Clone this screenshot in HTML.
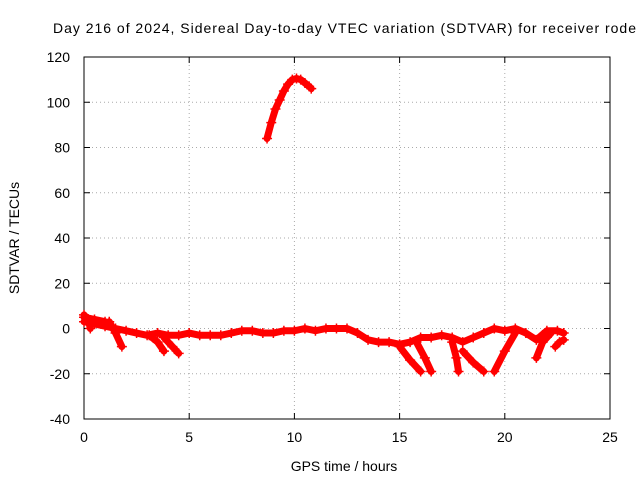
<!DOCTYPE html>
<html><head><meta charset="utf-8"><style>
body{margin:0;background:#fff}
svg{display:block;font-family:"Liberation Sans",sans-serif}
</style></head><body>
<svg id="chart" width="640" height="480">
<rect width="640" height="480" fill="#fff"/>
<text x="53" y="33" font-size="14" textLength="583" lengthAdjust="spacing" fill="#000" style="white-space:pre">Day 216 of 2024, Sidereal Day-to-day VTEC variation (SDTVAR) for receiver rode</text>
<g id="grid"></g><g id="axes"></g><g id="series"></g>
<text x="344" y="471" font-size="14" text-anchor="middle">GPS time / hours</text>
<text transform="translate(19,238) rotate(-90)" font-size="14" text-anchor="middle">SDTVAR / TECUs</text>
</svg>
<script>
const xTicks=[0,5,10,15,20,25];
const yTicks=[-40,-20,0,20,40,60,80,100,120];
const arcTimes=[8.7,8.9,9.1,9.3,9.5,9.7,9.9,10.1,10.3,10.5,10.7,10.8];
const arcValues=[84,91,97,101,105,108,110,110.5,110,108.5,107,106];
const baseTimes=[0,0.5,1,1.5,2,2.5,3,3.5,4,4.5,5,5.5,6,6.5,7,7.5,8,8.5,9,9.5,10,10.5,11,11.5,12,12.5,13,13.5,14,14.5,15,15.5,16,16.5,17,17.5,18,18.5,19,19.5,20,20.5,21,21.5,22,22.5,22.8];
const baseValues=[3,2,1,0,-1,-2,-3,-2,-3,-3,-2,-3,-3,-3,-2,-1,-1,-2,-2,-1,-1,0,-1,0,0,0,-2,-5,-6,-6,-7,-6,-4,-4,-3,-4,-6,-4,-2,0,-1,0,-2,-5,-1,-1,-2];
const branchTimes=[[0,0.5,1],[1.2,1.5,1.8],[3.1,3.5,3.8],[3.8,4.2,4.5],[15,15.5,16],[15.8,16.2,16.5],[17.5,17.7,17.8],[18,18.5,19],[19.5,20,20.5],[21.5,21.8,22.2],[22.4,22.6,22.8],[0,0.2,0.3]];
const branchValues=[[5,4,3],[3,-2,-8],[-3,-6,-10],[-4,-8,-11],[-8,-14,-19],[-6,-13,-19],[-6,-13,-19],[-10,-15,-19],[-19,-10,-2],[-13,-6,-2],[-8,-6,-5],[6,4,0]];
const X0=84,X1=610,Y0=419,Y1=57;
const xs=t=>X0+(t-0)/(25-0)*(X1-X0);
const ys=v=>Y0-(v+40)/(160)*(Y0-Y1);
const NS="http://www.w3.org/2000/svg";
function mk(tag,attrs,parent){const e=document.createElementNS(NS,tag);for(const k in attrs)e.setAttribute(k,attrs[k]);parent.appendChild(e);return e;}
const grid=document.getElementById('grid'),axes=document.getElementById('axes'),ser=document.getElementById('series');
xTicks.forEach(t=>{const x=xs(t);
 if(t>0&&t<25){const g=mk('line',{x1:x,x2:x,y1:Y1,y2:Y0,stroke:'#aaa','stroke-dasharray':'1,3'},grid);
 
 }
 mk('line',{x1:x,x2:x,y1:Y0,y2:Y0-6,stroke:'#000'},axes);mk('line',{x1:x,x2:x,y1:Y1,y2:Y1+6,stroke:'#000'},axes);
 const l=mk('text',{x:x,y:Y0+23,'font-size':14,'text-anchor':'middle'},axes);l.textContent=t;
 
 });
yTicks.forEach(v=>{const y=ys(v);
 if(v>-40&&v<120){const g=mk('line',{x1:X0,x2:X1,y1:y,y2:y,stroke:'#aaa','stroke-dasharray':'1,3'},grid);
 
 }
 mk('line',{x1:X0,x2:X0+6,y1:y,y2:y,stroke:'#000'},axes);mk('line',{x1:X1,x2:X1-6,y1:y,y2:y,stroke:'#000'},axes);
 const l=mk('text',{x:X0-14,y:y+5,'font-size':14,'text-anchor':'end'},axes);l.textContent=v;
 
 });
const fr=mk('rect',{x:X0,y:Y1,width:X1-X0,height:Y0-Y1,fill:'none',stroke:'#000'},axes);


function track(ts,vs,name){
 const p=mk('polyline',{points:ts.map((t,i)=>xs(t)+','+ys(vs[i])).join(' '),fill:'none',stroke:'#f00','stroke-width':7,'stroke-linejoin':'round','stroke-linecap':'round'},ser);
 
 
 ts.forEach((t,i)=>{const x=xs(t),y=ys(vs[i]);
  mk('path',{d:`M${x-5},${y}h10M${x},${y-5}v10`,stroke:'#f00','stroke-width':1.5},ser);});
}
track(arcTimes,arcValues,'arc-series');
track(baseTimes,baseValues,'baseline-series');
branchTimes.forEach((bt,i)=>track(bt,branchValues[i],'branch-series'));
</script>
</body></html>
